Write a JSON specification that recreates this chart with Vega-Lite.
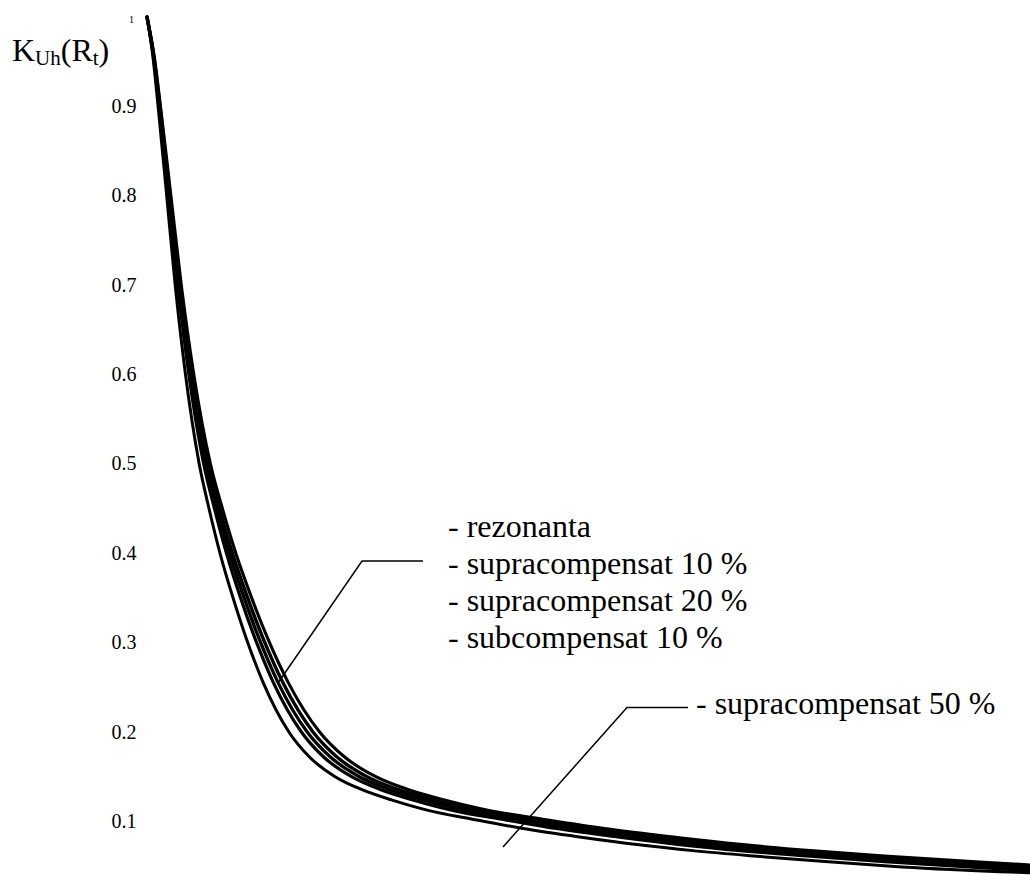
{
  "$schema": "https://vega.github.io/schema/vega-lite/v6.json",
  "width": 883,
  "height": 858,
  "autosize": {"type": "none"},
  "padding": {"left": 147, "top": 17, "right": 0, "bottom": 0},
  "background": "white",
  "config": {"view": {"stroke": null}, "font": "Liberation Serif"},
  "datasets": {
    "curbe": [
      {"curba": "rezonanta", "Rt": 0, "K": 1},
      {"curba": "rezonanta", "Rt": 7, "K": 0.955},
      {"curba": "rezonanta", "Rt": 13, "K": 0.9},
      {"curba": "rezonanta", "Rt": 23, "K": 0.8},
      {"curba": "rezonanta", "Rt": 33, "K": 0.7},
      {"curba": "rezonanta", "Rt": 45, "K": 0.6},
      {"curba": "rezonanta", "Rt": 61, "K": 0.5},
      {"curba": "rezonanta", "Rt": 72, "K": 0.452},
      {"curba": "rezonanta", "Rt": 86, "K": 0.398},
      {"curba": "rezonanta", "Rt": 100, "K": 0.352},
      {"curba": "rezonanta", "Rt": 116, "K": 0.305},
      {"curba": "rezonanta", "Rt": 136, "K": 0.255},
      {"curba": "rezonanta", "Rt": 166, "K": 0.2},
      {"curba": "rezonanta", "Rt": 190, "K": 0.172},
      {"curba": "rezonanta", "Rt": 220, "K": 0.15},
      {"curba": "rezonanta", "Rt": 250, "K": 0.136},
      {"curba": "rezonanta", "Rt": 286, "K": 0.124},
      {"curba": "rezonanta", "Rt": 330, "K": 0.112},
      {"curba": "rezonanta", "Rt": 378, "K": 0.103},
      {"curba": "rezonanta", "Rt": 440, "K": 0.092},
      {"curba": "rezonanta", "Rt": 510, "K": 0.082},
      {"curba": "rezonanta", "Rt": 573, "K": 0.074},
      {"curba": "rezonanta", "Rt": 641, "K": 0.067},
      {"curba": "rezonanta", "Rt": 713, "K": 0.061},
      {"curba": "rezonanta", "Rt": 793, "K": 0.055},
      {"curba": "rezonanta", "Rt": 883, "K": 0.049},

      {"curba": "subcompensat 10 %", "Rt": 0, "K": 1},
      {"curba": "subcompensat 10 %", "Rt": 7.3, "K": 0.955},
      {"curba": "subcompensat 10 %", "Rt": 13.5, "K": 0.9},
      {"curba": "subcompensat 10 %", "Rt": 23.9, "K": 0.8},
      {"curba": "subcompensat 10 %", "Rt": 34.3, "K": 0.7},
      {"curba": "subcompensat 10 %", "Rt": 46.8, "K": 0.6},
      {"curba": "subcompensat 10 %", "Rt": 63.4, "K": 0.5},
      {"curba": "subcompensat 10 %", "Rt": 74.9, "K": 0.452},
      {"curba": "subcompensat 10 %", "Rt": 89.4, "K": 0.398},
      {"curba": "subcompensat 10 %", "Rt": 104, "K": 0.352},
      {"curba": "subcompensat 10 %", "Rt": 120.6, "K": 0.305},
      {"curba": "subcompensat 10 %", "Rt": 141.4, "K": 0.255},
      {"curba": "subcompensat 10 %", "Rt": 172.6, "K": 0.2},
      {"curba": "subcompensat 10 %", "Rt": 197.6, "K": 0.172},
      {"curba": "subcompensat 10 %", "Rt": 228.8, "K": 0.15},
      {"curba": "subcompensat 10 %", "Rt": 260, "K": 0.136},
      {"curba": "subcompensat 10 %", "Rt": 297.4, "K": 0.124},
      {"curba": "subcompensat 10 %", "Rt": 343.2, "K": 0.112},
      {"curba": "subcompensat 10 %", "Rt": 393.1, "K": 0.103},
      {"curba": "subcompensat 10 %", "Rt": 457.6, "K": 0.092},
      {"curba": "subcompensat 10 %", "Rt": 530.4, "K": 0.082},
      {"curba": "subcompensat 10 %", "Rt": 595.9, "K": 0.074},
      {"curba": "subcompensat 10 %", "Rt": 666.6, "K": 0.067},
      {"curba": "subcompensat 10 %", "Rt": 741.5, "K": 0.061},
      {"curba": "subcompensat 10 %", "Rt": 824.7, "K": 0.055},
      {"curba": "subcompensat 10 %", "Rt": 883, "K": 0.0512},

      {"curba": "supracompensat 10 %", "Rt": 0, "K": 1},
      {"curba": "supracompensat 10 %", "Rt": 6.8, "K": 0.955},
      {"curba": "supracompensat 10 %", "Rt": 12.5, "K": 0.9},
      {"curba": "supracompensat 10 %", "Rt": 22.2, "K": 0.8},
      {"curba": "supracompensat 10 %", "Rt": 31.8, "K": 0.7},
      {"curba": "supracompensat 10 %", "Rt": 43.4, "K": 0.6},
      {"curba": "supracompensat 10 %", "Rt": 58.9, "K": 0.5},
      {"curba": "supracompensat 10 %", "Rt": 69.5, "K": 0.452},
      {"curba": "supracompensat 10 %", "Rt": 83, "K": 0.398},
      {"curba": "supracompensat 10 %", "Rt": 96.5, "K": 0.352},
      {"curba": "supracompensat 10 %", "Rt": 111.9, "K": 0.305},
      {"curba": "supracompensat 10 %", "Rt": 131.2, "K": 0.255},
      {"curba": "supracompensat 10 %", "Rt": 160.2, "K": 0.2},
      {"curba": "supracompensat 10 %", "Rt": 183.4, "K": 0.172},
      {"curba": "supracompensat 10 %", "Rt": 212.3, "K": 0.15},
      {"curba": "supracompensat 10 %", "Rt": 241.3, "K": 0.136},
      {"curba": "supracompensat 10 %", "Rt": 276, "K": 0.124},
      {"curba": "supracompensat 10 %", "Rt": 318.5, "K": 0.112},
      {"curba": "supracompensat 10 %", "Rt": 364.8, "K": 0.103},
      {"curba": "supracompensat 10 %", "Rt": 424.6, "K": 0.092},
      {"curba": "supracompensat 10 %", "Rt": 492.2, "K": 0.082},
      {"curba": "supracompensat 10 %", "Rt": 553, "K": 0.074},
      {"curba": "supracompensat 10 %", "Rt": 618.6, "K": 0.067},
      {"curba": "supracompensat 10 %", "Rt": 688, "K": 0.061},
      {"curba": "supracompensat 10 %", "Rt": 765.2, "K": 0.055},
      {"curba": "supracompensat 10 %", "Rt": 852.1, "K": 0.049},
      {"curba": "supracompensat 10 %", "Rt": 883, "K": 0.047},

      {"curba": "supracompensat 20 %", "Rt": 0, "K": 1},
      {"curba": "supracompensat 20 %", "Rt": 6.5, "K": 0.955},
      {"curba": "supracompensat 20 %", "Rt": 12.1, "K": 0.9},
      {"curba": "supracompensat 20 %", "Rt": 21.4, "K": 0.8},
      {"curba": "supracompensat 20 %", "Rt": 30.7, "K": 0.7},
      {"curba": "supracompensat 20 %", "Rt": 41.9, "K": 0.6},
      {"curba": "supracompensat 20 %", "Rt": 56.7, "K": 0.5},
      {"curba": "supracompensat 20 %", "Rt": 67, "K": 0.452},
      {"curba": "supracompensat 20 %", "Rt": 80, "K": 0.398},
      {"curba": "supracompensat 20 %", "Rt": 93, "K": 0.352},
      {"curba": "supracompensat 20 %", "Rt": 107.9, "K": 0.305},
      {"curba": "supracompensat 20 %", "Rt": 126.5, "K": 0.255},
      {"curba": "supracompensat 20 %", "Rt": 154.4, "K": 0.2},
      {"curba": "supracompensat 20 %", "Rt": 176.7, "K": 0.172},
      {"curba": "supracompensat 20 %", "Rt": 204.6, "K": 0.15},
      {"curba": "supracompensat 20 %", "Rt": 232.5, "K": 0.136},
      {"curba": "supracompensat 20 %", "Rt": 266, "K": 0.124},
      {"curba": "supracompensat 20 %", "Rt": 306.9, "K": 0.112},
      {"curba": "supracompensat 20 %", "Rt": 351.5, "K": 0.103},
      {"curba": "supracompensat 20 %", "Rt": 409.2, "K": 0.092},
      {"curba": "supracompensat 20 %", "Rt": 474.3, "K": 0.082},
      {"curba": "supracompensat 20 %", "Rt": 532.9, "K": 0.074},
      {"curba": "supracompensat 20 %", "Rt": 596.1, "K": 0.067},
      {"curba": "supracompensat 20 %", "Rt": 663.1, "K": 0.061},
      {"curba": "supracompensat 20 %", "Rt": 737.5, "K": 0.055},
      {"curba": "supracompensat 20 %", "Rt": 821.2, "K": 0.049},
      {"curba": "supracompensat 20 %", "Rt": 883, "K": 0.045},

      {"curba": "supracompensat 50 %", "Rt": 0, "K": 1},
      {"curba": "supracompensat 50 %", "Rt": 6, "K": 0.955},
      {"curba": "supracompensat 50 %", "Rt": 11.1, "K": 0.9},
      {"curba": "supracompensat 50 %", "Rt": 19.7, "K": 0.8},
      {"curba": "supracompensat 50 %", "Rt": 28.2, "K": 0.7},
      {"curba": "supracompensat 50 %", "Rt": 38.5, "K": 0.6},
      {"curba": "supracompensat 50 %", "Rt": 52.2, "K": 0.5},
      {"curba": "supracompensat 50 %", "Rt": 61.6, "K": 0.452},
      {"curba": "supracompensat 50 %", "Rt": 73.5, "K": 0.398},
      {"curba": "supracompensat 50 %", "Rt": 85.5, "K": 0.352},
      {"curba": "supracompensat 50 %", "Rt": 99.2, "K": 0.305},
      {"curba": "supracompensat 50 %", "Rt": 116.3, "K": 0.255},
      {"curba": "supracompensat 50 %", "Rt": 141.9, "K": 0.2},
      {"curba": "supracompensat 50 %", "Rt": 162.5, "K": 0.172},
      {"curba": "supracompensat 50 %", "Rt": 188.1, "K": 0.15},
      {"curba": "supracompensat 50 %", "Rt": 213.8, "K": 0.136},
      {"curba": "supracompensat 50 %", "Rt": 244.5, "K": 0.124},
      {"curba": "supracompensat 50 %", "Rt": 282.2, "K": 0.112},
      {"curba": "supracompensat 50 %", "Rt": 323.2, "K": 0.103},
      {"curba": "supracompensat 50 %", "Rt": 376.2, "K": 0.092},
      {"curba": "supracompensat 50 %", "Rt": 436.1, "K": 0.082},
      {"curba": "supracompensat 50 %", "Rt": 489.9, "K": 0.074},
      {"curba": "supracompensat 50 %", "Rt": 548.1, "K": 0.067},
      {"curba": "supracompensat 50 %", "Rt": 609.6, "K": 0.061},
      {"curba": "supracompensat 50 %", "Rt": 678, "K": 0.055},
      {"curba": "supracompensat 50 %", "Rt": 755, "K": 0.049},
      {"curba": "supracompensat 50 %", "Rt": 883, "K": 0.0425}
    ],
    "indicatoare": [
      {"grup": "a", "pas": 1, "Rt": 131, "K": 0.2548},
      {"grup": "a", "pas": 2, "Rt": 215, "K": 0.3913},
      {"grup": "a", "pas": 3, "Rt": 276, "K": 0.3913},
      {"grup": "b", "pas": 1, "Rt": 356, "K": 0.0713},
      {"grup": "b", "pas": 2, "Rt": 480, "K": 0.2275},
      {"grup": "b", "pas": 3, "Rt": 541, "K": 0.2275}
    ],
    "ancora": [{}]
  },
  "layer": [
    {
      "data": {"name": "curbe"},
      "mark": {"type": "line", "interpolate": "monotone", "color": "black", "strokeCap": "round"},
      "encoding": {
        "x": {"field": "Rt", "type": "quantitative", "scale": {"domain": [0, 883], "nice": false, "zero": false}, "axis": null},
        "y": {
          "field": "K", "type": "quantitative",
          "scale": {"domain": [0.04, 1], "nice": false, "zero": false},
          "axis": {
            "orient": "left",
            "values": [0.1, 0.2, 0.3, 0.4, 0.5, 0.6, 0.7, 0.8, 0.9],
            "labelExpr": "format(datum.value, '.1f')",
            "title": null,
            "domain": false,
            "ticks": false,
            "grid": false,
            "labelFont": "Liberation Serif",
            "labelFontSize": 20,
            "labelColor": "black",
            "labelPadding": 11,
            "labelOverlap": false,
            "labelFlush": false,
            "labelBaseline": "middle"
          }
        },
        "detail": {"field": "curba", "type": "nominal"},
        "strokeWidth": {
          "field": "curba", "type": "nominal",
          "scale": {
            "domain": ["rezonanta", "supracompensat 10 %", "supracompensat 20 %", "subcompensat 10 %", "supracompensat 50 %"],
            "range": [3.4, 3, 1.5, 3, 1.4]
          },
          "legend": null
        }
      }
    },
    {
      "data": {"name": "indicatoare"},
      "mark": {"type": "line", "color": "black", "strokeWidth": 1.5},
      "encoding": {
        "x": {"field": "Rt", "type": "quantitative"},
        "y": {"field": "K", "type": "quantitative"},
        "detail": {"field": "grup", "type": "nominal"},
        "order": {"field": "pas", "type": "quantitative"}
      }
    },
    {
      "data": {"name": "ancora"},
      "mark": {"type": "text", "align": "right", "baseline": "middle", "fontSize": 10, "dy": 3, "font": "Liberation Serif", "color": "black"},
      "encoding": {
        "x": {"datum": -13, "type": "quantitative"},
        "y": {"datum": 1, "type": "quantitative"},
        "text": {"value": "1"}
      }
    },
    {
      "data": {"name": "ancora"},
      "mark": {"type": "text", "align": "left", "baseline": "alphabetic", "fontSize": 32, "lineHeight": 37, "font": "Liberation Serif", "color": "black"},
      "encoding": {
        "x": {"datum": 301, "type": "quantitative"},
        "y": {"datum": 0.4182, "type": "quantitative"},
        "text": {"value": ["- rezonanta", "- supracompensat 10 %", "- supracompensat 20 %", "- subcompensat 10 %"]}
      }
    },
    {
      "data": {"name": "ancora"},
      "mark": {"type": "text", "align": "left", "baseline": "alphabetic", "fontSize": 32, "font": "Liberation Serif", "color": "black"},
      "encoding": {
        "x": {"datum": 549, "type": "quantitative"},
        "y": {"datum": 0.2201, "type": "quantitative"},
        "text": {"value": "- supracompensat 50 %"}
      }
    },
    {
      "data": {"name": "ancora"},
      "mark": {"type": "text", "align": "left", "baseline": "alphabetic", "fontSize": 32, "font": "Liberation Serif", "color": "black"},
      "encoding": {
        "x": {"datum": -135, "type": "quantitative"},
        "y": {"datum": 0.9508, "type": "quantitative"},
        "text": {"value": "K"}
      }
    },
    {
      "data": {"name": "ancora"},
      "mark": {"type": "text", "align": "left", "baseline": "alphabetic", "fontSize": 21, "dx": 23.1, "dy": 4, "font": "Liberation Serif", "color": "black"},
      "encoding": {
        "x": {"datum": -135, "type": "quantitative"},
        "y": {"datum": 0.9508, "type": "quantitative"},
        "text": {"value": "Uh"}
      }
    },
    {
      "data": {"name": "ancora"},
      "mark": {"type": "text", "align": "left", "baseline": "alphabetic", "fontSize": 32, "dx": 48.8, "font": "Liberation Serif", "color": "black"},
      "encoding": {
        "x": {"datum": -135, "type": "quantitative"},
        "y": {"datum": 0.9508, "type": "quantitative"},
        "text": {"value": "(R"}
      }
    },
    {
      "data": {"name": "ancora"},
      "mark": {"type": "text", "align": "left", "baseline": "alphabetic", "fontSize": 21, "dx": 80.8, "dy": 4, "font": "Liberation Serif", "color": "black"},
      "encoding": {
        "x": {"datum": -135, "type": "quantitative"},
        "y": {"datum": 0.9508, "type": "quantitative"},
        "text": {"value": "t"}
      }
    },
    {
      "data": {"name": "ancora"},
      "mark": {"type": "text", "align": "left", "baseline": "alphabetic", "fontSize": 32, "dx": 86.6, "font": "Liberation Serif", "color": "black"},
      "encoding": {
        "x": {"datum": -135, "type": "quantitative"},
        "y": {"datum": 0.9508, "type": "quantitative"},
        "text": {"value": ")"}
      }
    }
  ]
}
